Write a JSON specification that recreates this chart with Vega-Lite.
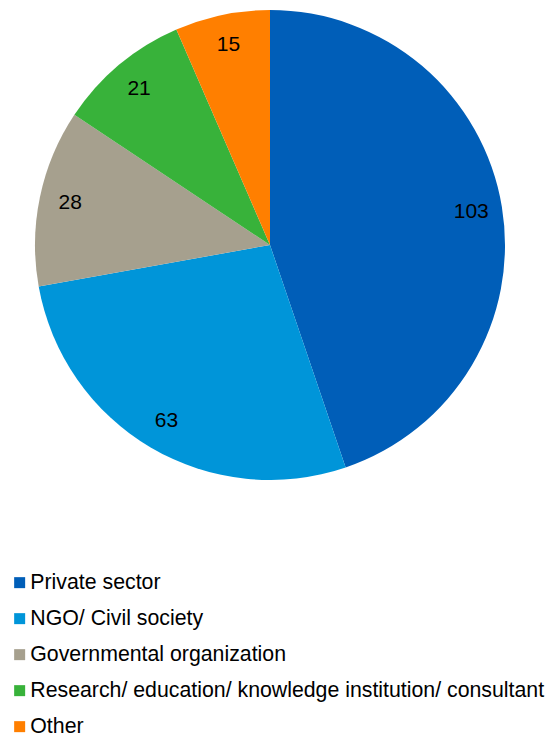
{
  "$schema": "https://vega.github.io/schema/vega-lite/v6.json",
  "width": 540,
  "height": 490,
  "padding": {"left": 0, "top": 0, "right": 7, "bottom": 246},
  "autosize": "none",
  "background": "white",
  "config": {"view": {"stroke": null}, "font": "Liberation Sans"},
  "data": {"values": [
    {"category": "Private sector", "count": 103, "ord": 1},
    {"category": "NGO/ Civil society", "count": 63, "ord": 2},
    {"category": "Governmental organization", "count": 28, "ord": 3},
    {"category": "Research/ education/ knowledge institution/ consultant", "count": 21, "ord": 4},
    {"category": "Other", "count": 15, "ord": 5}
  ]},
  "encoding": {
    "theta": {"field": "count", "type": "quantitative", "stack": true},
    "order": {"field": "ord", "type": "quantitative"}
  },
  "layer": [
    {
      "mark": {"type": "arc", "outerRadius": 235},
      "encoding": {
        "color": {
          "field": "category", "type": "nominal",
          "sort": ["Private sector", "NGO/ Civil society", "Governmental organization", "Research/ education/ knowledge institution/ consultant", "Other"],
          "scale": {
            "domain": ["Private sector", "NGO/ Civil society", "Governmental organization", "Research/ education/ knowledge institution/ consultant", "Other"],
            "range": ["#005EB8", "#0095D9", "#A6A08E", "#38B23A", "#FF7F00"]
          },
          "legend": {
            "title": null,
            "orient": "none",
            "legendX": 9,
            "legendY": 572,
            "direction": "vertical",
            "symbolType": "square",
            "symbolSize": 121,
            "symbolStrokeWidth": 0,
            "labelFontSize": 21.3,
            "labelFont": "Liberation Sans",
            "labelColor": "#000000",
            "labelLimit": 600,
            "rowPadding": 14,
            "symbolOffset": 0,
            "labelOffset": 0
          }
        }
      }
    },
    {
      "mark": {"type": "text", "radius": 204, "fontSize": 21, "font": "Liberation Sans", "color": "#000000"},
      "encoding": {"text": {"field": "count", "type": "quantitative"}}
    }
  ]
}
